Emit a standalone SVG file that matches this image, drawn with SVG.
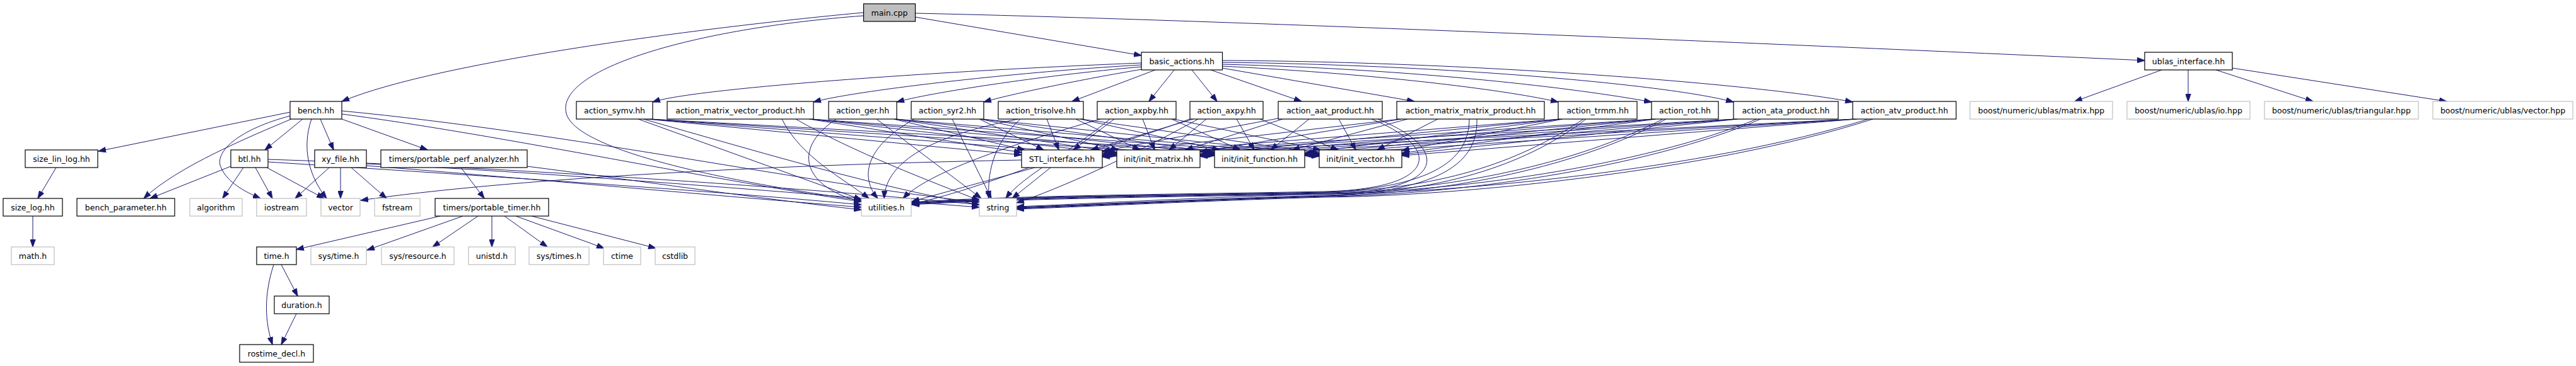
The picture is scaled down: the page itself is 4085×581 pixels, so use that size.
<svg xmlns="http://www.w3.org/2000/svg" width="4085" height="581" viewBox="0 0 4085 581">
<style>
.n rect{fill:#fff;stroke:#000;stroke-width:1.2}
.g rect{fill:#fff;stroke:#bfbfbf;stroke-width:1.2}
.m rect{fill:#bfbfbf;stroke:#000;stroke-width:1.2}
text{font-family:"DejaVu Sans",Verdana,sans-serif;font-size:12.5px;fill:#000;text-anchor:middle}
#edges path{fill:none;stroke:#191970;stroke-width:1;marker-end:url(#a)}
</style>
<defs>
<marker id="a" markerWidth="13" markerHeight="9" refX="12" refY="4.5" orient="auto" markerUnits="userSpaceOnUse"><path d="M0,0 L13,4.5 L0,9 z" fill="#191970" stroke="#191970" stroke-width="0.5"/></marker>
</defs>
<rect width="4085" height="581" fill="#fff"/>
<g id="edges">
<path d="M1369,20 C1150,40 700,95 542,161"/>
<path d="M1369,25 C1100,45 880,110 898,180 C915,245 1200,295 1366,318"/>
<path d="M1451,27 L1810,88"/>
<path d="M1451,21 C2000,33 3000,78 3401,96"/>
<path d="M1810,100 C1500,112 1100,140 1035,162"/>
<path d="M1810,103 C1600,115 1350,145 1290,162"/>
<path d="M1810,106 C1650,120 1470,148 1422,162"/>
<path d="M1811,110 C1720,125 1600,150 1560,162"/>
<path d="M1832,111 L1700,161"/>
<path d="M1862,111 L1822,161"/>
<path d="M1890,111 L1930,161"/>
<path d="M1920,111 L2064,161"/>
<path d="M1938,108 L2243,161"/>
<path d="M1938,105 C2200,118 2400,145 2471,162"/>
<path d="M1938,102 C2250,110 2500,140 2619,162"/>
<path d="M1938,99 C2300,103 2650,135 2749,162"/>
<path d="M1938,96 C2350,98 2800,135 2938,162"/>
<path d="M3428,111 L3290,161"/>
<path d="M3470,111 L3470,161"/>
<path d="M3514,111 L3668,161"/>
<path d="M3540,108 L3880,161"/>
<path d="M460,178 L156,240"/>
<path d="M462,189 C400,215 280,265 228,315"/>
<path d="M480,189 L420,238"/>
<path d="M460,184 C380,205 340,240 350,265 C360,290 390,305 413,315"/>
<path d="M494,189 C478,235 490,280 518,315"/>
<path d="M508,189 L529,238"/>
<path d="M542,189 L678,238"/>
<path d="M542,181 C800,215 1150,290 1366,320"/>
<path d="M542,176 C900,210 1300,295 1553,321"/>
<path d="M366,264 L238,315"/>
<path d="M386,266 L353,315"/>
<path d="M405,266 L432,315"/>
<path d="M423,266 L514,315"/>
<path d="M425,257 C700,275 1100,300 1366,325"/>
<path d="M425,253 C800,265 1300,300 1553,325"/>
<path d="M522,266 L468,315"/>
<path d="M540,266 L540,315"/>
<path d="M557,266 L613,315"/>
<path d="M581,263 C800,280 1100,308 1366,329"/>
<path d="M581,260 C900,275 1300,310 1553,329"/>
<path d="M731,266 L768,315"/>
<path d="M836,264 C1000,285 1200,315 1366,333"/>
<path d="M698,343 L470,396"/>
<path d="M734,343 L582,397"/>
<path d="M758,343 L686,392"/>
<path d="M780,343 L780,392"/>
<path d="M800,343 L868,392"/>
<path d="M818,343 L958,394"/>
<path d="M843,343 L1040,394"/>
<path d="M446,420 L472,470"/>
<path d="M434,420 C418,470 420,510 432,547"/>
<path d="M470,498 L446,547"/>
<path d="M89,266 L60,315"/>
<path d="M52,343 L52,392"/>
<path d="M1620,254 C1200,262 800,285 572,318"/>
<path d="M1632,266 C1560,292 1500,312 1446,324"/>
<path d="M1666,266 L1605,315"/>
<path d="M1026,189 L1620,246"/>
<path d="M1028,189 L1771,247"/>
<path d="M1030,189 L1926,247"/>
<path d="M1032,189 L2092,248"/>
<path d="M1012,189 L1366,317"/>
<path d="M1020,189 C1200,240 1400,300 1553,325"/>
<path d="M1283,189 L1620,242"/>
<path d="M1285,189 L1771,244"/>
<path d="M1286,189 L1926,246"/>
<path d="M1287,189 L2092,247"/>
<path d="M1240,189 C1270,250 1340,285 1378,315"/>
<path d="M1262,189 C1350,240 1480,290 1553,318"/>
<path d="M1417,189 L1625,238"/>
<path d="M1419,189 L1771,242"/>
<path d="M1420,189 L1926,244"/>
<path d="M1421,189 L2092,246"/>
<path d="M1326,189 C1250,240 1280,300 1366,320"/>
<path d="M1390,189 L1556,315"/>
<path d="M1553,189 L1655,238"/>
<path d="M1555,189 L1774,238"/>
<path d="M1557,189 L1926,242"/>
<path d="M1558,189 L2092,245"/>
<path d="M1450,189 C1360,240 1370,290 1392,315"/>
<path d="M1510,189 L1572,315"/>
<path d="M1660,189 L1679,238"/>
<path d="M1706,189 L1808,238"/>
<path d="M1713,189 L1934,238"/>
<path d="M1715,189 L2092,243"/>
<path d="M1615,189 C1480,215 1405,255 1402,315"/>
<path d="M1618,189 C1572,230 1566,280 1568,315"/>
<path d="M1767,189 L1702,238"/>
<path d="M1812,189 L1831,238"/>
<path d="M1858,189 L1967,238"/>
<path d="M1861,189 L2094,238"/>
<path d="M1745,189 C1600,230 1470,275 1432,315"/>
<path d="M1760,189 C1700,240 1620,280 1595,315"/>
<path d="M1892,189 L1730,238"/>
<path d="M1913,189 L1854,238"/>
<path d="M1961,189 L1989,238"/>
<path d="M1998,189 L2122,238"/>
<path d="M1892,187 C1750,240 1550,290 1446,320"/>
<path d="M1900,189 C1800,245 1680,300 1612,322"/>
<path d="M2032,187 L1748,240"/>
<path d="M2034,189 L1880,238"/>
<path d="M2076,189 L2015,238"/>
<path d="M2123,189 L2150,238"/>
<path d="M2175,189 C2290,235 2280,300 2100,304 C1900,308 1600,310 1446,321"/>
<path d="M2185,189 C2300,235 2300,305 2100,308 C1900,313 1700,325 1612,328"/>
<path d="M2220,189 L1748,244"/>
<path d="M2222,189 L1903,241"/>
<path d="M2232,189 L2049,238"/>
<path d="M2280,189 L2184,238"/>
<path d="M2330,189 C2330,265 2250,305 2050,307 C1800,310 1600,312 1446,322"/>
<path d="M2342,189 C2345,275 2250,310 2050,313 C1850,318 1700,327 1612,330"/>
<path d="M2473,189 L1748,247"/>
<path d="M2475,189 L1903,245"/>
<path d="M2476,189 L2069,243"/>
<path d="M2478,189 L2223,239"/>
<path d="M2511,189 C2420,250 2300,300 2100,305 C1900,309 1600,312 1446,323"/>
<path d="M2515,189 C2430,255 2300,305 2100,310 C1900,316 1700,326 1612,329"/>
<path d="M2621,189 L1748,248"/>
<path d="M2622,189 L1903,247"/>
<path d="M2624,189 L2069,245"/>
<path d="M2626,189 L2223,243"/>
<path d="M2637,189 C2500,260 2300,303 2100,306 C1900,310 1600,313 1446,323"/>
<path d="M2642,189 C2510,262 2300,308 2100,311 C1900,317 1700,327 1612,330"/>
<path d="M2751,189 L1748,248"/>
<path d="M2752,189 L1903,248"/>
<path d="M2754,189 L2069,246"/>
<path d="M2756,189 L2223,245"/>
<path d="M2786,189 C2600,265 2300,305 2100,307 C1900,311 1600,314 1446,324"/>
<path d="M2792,189 C2610,268 2300,310 2100,312 C1900,318 1700,328 1612,331"/>
<path d="M2940,189 L1748,249"/>
<path d="M2941,189 L1903,248"/>
<path d="M2943,189 L2069,247"/>
<path d="M2945,189 L2223,247"/>
<path d="M2963,189 C2700,270 2300,307 2100,308 C1900,312 1600,315 1446,325"/>
<path d="M2970,189 C2710,273 2300,312 2100,313 C1900,319 1700,329 1612,332"/>
</g>
<g id="main_cpp" class="m"><rect x="1369.5" y="6" width="82" height="28"/><text x="1410.5" y="24.5">main.cpp</text></g>
<g id="basic_actions" class="n"><rect x="1810" y="83" width="128.5" height="28"/><text x="1874.2" y="101.5">basic_actions.hh</text></g>
<g id="ublas_interface" class="n"><rect x="3401" y="83" width="139" height="28"/><text x="3470.5" y="101.5">ublas_interface.hh</text></g>
<g id="bench" class="n"><rect x="460" y="161" width="82" height="28"/><text x="501" y="179.5">bench.hh</text></g>
<g id="action_symv" class="n"><rect x="914" y="161" width="121" height="28"/><text x="974.5" y="179.5">action_symv.hh</text></g>
<g id="action_mvp" class="n"><rect x="1058" y="161" width="232" height="28"/><text x="1174" y="179.5">action_matrix_vector_product.hh</text></g>
<g id="action_ger" class="n"><rect x="1314" y="161" width="108" height="28"/><text x="1368" y="179.5">action_ger.hh</text></g>
<g id="action_syr2" class="n"><rect x="1445" y="161" width="115" height="28"/><text x="1502.5" y="179.5">action_syr2.hh</text></g>
<g id="action_trisolve" class="n"><rect x="1583" y="161" width="135" height="28"/><text x="1650.5" y="179.5">action_trisolve.hh</text></g>
<g id="action_axpby" class="n"><rect x="1740" y="161" width="125" height="28"/><text x="1802.5" y="179.5">action_axpby.hh</text></g>
<g id="action_axpy" class="n"><rect x="1887" y="161" width="116" height="28"/><text x="1945" y="179.5">action_axpy.hh</text></g>
<g id="action_aat" class="n"><rect x="2027" y="161" width="165" height="28"/><text x="2109.5" y="179.5">action_aat_product.hh</text></g>
<g id="action_mmp" class="n"><rect x="2215" y="161" width="234" height="28"/><text x="2332" y="179.5">action_matrix_matrix_product.hh</text></g>
<g id="action_trmm" class="n"><rect x="2471" y="161" width="125" height="28"/><text x="2533.5" y="179.5">action_trmm.hh</text></g>
<g id="action_rot" class="n"><rect x="2619" y="161" width="106" height="28"/><text x="2672" y="179.5">action_rot.hh</text></g>
<g id="action_ata" class="n"><rect x="2749" y="161" width="166" height="28"/><text x="2832" y="179.5">action_ata_product.hh</text></g>
<g id="action_atv" class="n"><rect x="2938" y="161" width="164" height="28"/><text x="3020" y="179.5">action_atv_product.hh</text></g>
<g id="ublas_matrix" class="g"><rect x="3124" y="161" width="226" height="28"/><text x="3237" y="179.5">boost/numeric/ublas/matrix.hpp</text></g>
<g id="ublas_io" class="g"><rect x="3373" y="161" width="195" height="28"/><text x="3470.5" y="179.5">boost/numeric/ublas/io.hpp</text></g>
<g id="ublas_triangular" class="g"><rect x="3591" y="161" width="244" height="28"/><text x="3713" y="179.5">boost/numeric/ublas/triangular.hpp</text></g>
<g id="ublas_vector" class="g"><rect x="3858" y="161" width="222" height="28"/><text x="3969" y="179.5">boost/numeric/ublas/vector.hpp</text></g>
<g id="size_lin_log" class="n"><rect x="40" y="238" width="115" height="28"/><text x="97.5" y="256.5">size_lin_log.hh</text></g>
<g id="btl" class="n"><rect x="366" y="238" width="59" height="28"/><text x="395.5" y="256.5">btl.hh</text></g>
<g id="xy_file" class="n"><rect x="499" y="238" width="82" height="28"/><text x="540" y="256.5">xy_file.hh</text></g>
<g id="perf_analyzer" class="n"><rect x="604" y="238" width="232" height="28"/><text x="720" y="256.5">timers/portable_perf_analyzer.hh</text></g>
<g id="stl_interface" class="n"><rect x="1620" y="238" width="128" height="28"/><text x="1684" y="256.5">STL_interface.hh</text></g>
<g id="init_matrix" class="n"><rect x="1771" y="238" width="132" height="28"/><text x="1837" y="256.5">init/init_matrix.hh</text></g>
<g id="init_function" class="n"><rect x="1926" y="238" width="143" height="28"/><text x="1997.5" y="256.5">init/init_function.hh</text></g>
<g id="init_vector" class="n"><rect x="2092" y="238" width="131" height="28"/><text x="2157.5" y="256.5">init/init_vector.hh</text></g>
<g id="size_log" class="n"><rect x="5" y="315" width="94" height="28"/><text x="52" y="333.5">size_log.hh</text></g>
<g id="bench_parameter" class="n"><rect x="122" y="315" width="155" height="28"/><text x="199.5" y="333.5">bench_parameter.hh</text></g>
<g id="algorithm" class="g"><rect x="301" y="315" width="83" height="28"/><text x="342.5" y="333.5">algorithm</text></g>
<g id="iostream" class="g"><rect x="407" y="315" width="79" height="28"/><text x="446.5" y="333.5">iostream</text></g>
<g id="vector" class="g"><rect x="509" y="315" width="62" height="28"/><text x="540" y="333.5">vector</text></g>
<g id="fstream" class="g"><rect x="594" y="315" width="72" height="28"/><text x="630" y="333.5">fstream</text></g>
<g id="portable_timer" class="n"><rect x="690" y="315" width="180" height="28"/><text x="780" y="333.5">timers/portable_timer.hh</text></g>
<g id="utilities" class="g"><rect x="1366" y="315" width="79" height="28"/><text x="1405.5" y="333.5">utilities.h</text></g>
<g id="string" class="g"><rect x="1553" y="315" width="59" height="28"/><text x="1582.5" y="333.5">string</text></g>
<g id="math_h" class="g"><rect x="18" y="392" width="68" height="28"/><text x="52" y="410.5">math.h</text></g>
<g id="time_h" class="n"><rect x="407" y="392" width="63" height="28"/><text x="438.5" y="410.5">time.h</text></g>
<g id="sys_time_h" class="g"><rect x="493" y="392" width="88" height="28"/><text x="537" y="410.5">sys/time.h</text></g>
<g id="sys_resource_h" class="g"><rect x="605" y="392" width="115" height="28"/><text x="662.5" y="410.5">sys/resource.h</text></g>
<g id="unistd_h" class="g"><rect x="743" y="392" width="74" height="28"/><text x="780" y="410.5">unistd.h</text></g>
<g id="sys_times_h" class="g"><rect x="839" y="392" width="95" height="28"/><text x="886.5" y="410.5">sys/times.h</text></g>
<g id="ctime" class="g"><rect x="957" y="392" width="59" height="28"/><text x="986.5" y="410.5">ctime</text></g>
<g id="cstdlib" class="g"><rect x="1039" y="392" width="63" height="28"/><text x="1070.5" y="410.5">cstdlib</text></g>
<g id="duration_h" class="n"><rect x="435" y="470" width="87" height="28"/><text x="478.5" y="488.5">duration.h</text></g>
<g id="rostime_decl_h" class="n"><rect x="380" y="547" width="117" height="28"/><text x="438.5" y="565.5">rostime_decl.h</text></g>
</svg>
